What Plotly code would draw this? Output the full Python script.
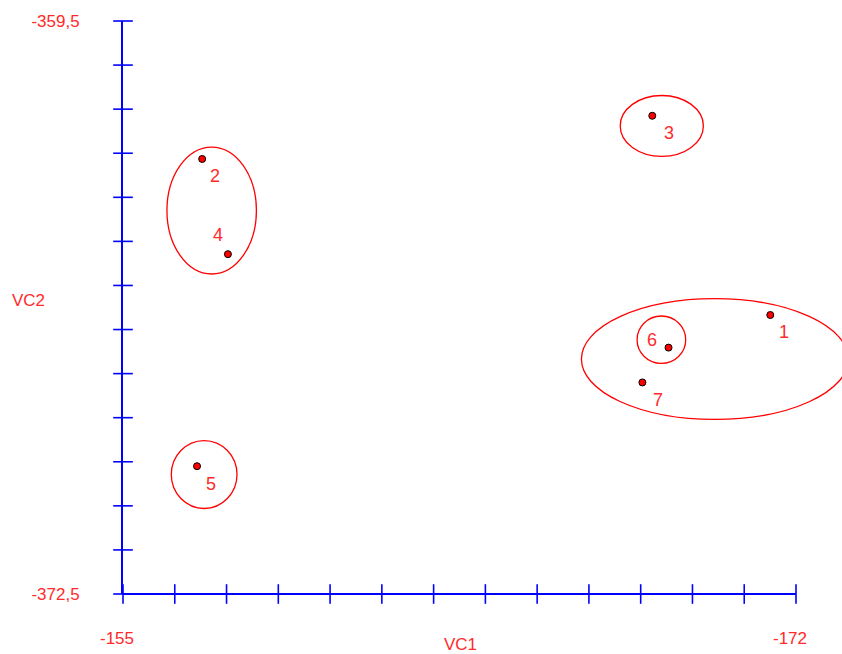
import numpy as np
import plotly.graph_objects as go

# Object scores on the first two canonical variables
point_ids = ["1", "2", "3", "4", "5", "6", "7"]
vc1 = [-171.35, -157.00, -168.37, -157.65, -156.87, -168.78, -168.12]
vc2 = [-366.17, -362.63, -361.65, -364.79, -369.60, -366.91, -367.70]

# Cluster outlines: centre and half-axes in data units
cluster_cx = [-157.24, -168.61, -157.05, -168.60, -169.95]
cluster_cy = [-363.80, -361.88, -369.79, -366.73, -367.17]
cluster_rx = [1.13, 1.05, 0.83, 0.614, 3.37]
cluster_ry = [1.44, 0.69, 0.77, 0.537, 1.37]

# Axis extents and labels
X_START, X_END = -155.0, -172.0
Y_LOW, Y_HIGH = -372.5, -359.5
x_tick_text = ["-155", "-172"]
y_tick_text = ["-359,5", "-372,5"]
N_TICKS = 14

# label offsets (pixels) relative to each point
label_dx = [14, 13, 17, -10, 14, -17, 16]
label_dy = [-17, -17, -17, 19, -18, 8, -18]

W, H = 842, 654
ML, MT, MB, MR = 123, 21, 60, 0
axis_px = 673  # drawn length of the VC1 axis
plot_w = W - ML - MR
x_full_end = X_START + (X_END - X_START) * plot_w / axis_px

RED = "#ff0000"
TXT = "#ff2a2a"
BLUE = "#0000ff"
FONT = "Liberation Sans, Arial, sans-serif"

x_ticks = np.linspace(X_START, X_END, N_TICKS)
y_ticks = np.linspace(Y_LOW, Y_HIGH, N_TICKS)

fig = go.Figure()

# crossing tick marks on both axes
fig.add_trace(go.Scatter(
    x=[X_START] * N_TICKS, y=y_ticks, mode="markers", cliponaxis=False,
    marker=dict(symbol="line-ew", size=14, line=dict(color=BLUE, width=1.6)),
    hoverinfo="skip", showlegend=False))
fig.add_trace(go.Scatter(
    x=x_ticks, y=[Y_LOW] * N_TICKS, mode="markers", cliponaxis=False,
    marker=dict(symbol="line-ns", size=14, line=dict(color=BLUE, width=1.6)),
    hoverinfo="skip", showlegend=False))

# cluster ellipses
for cx, cy, rx, ry in zip(cluster_cx, cluster_cy, cluster_rx, cluster_ry):
    fig.add_shape(type="circle", xref="x", yref="y",
                  x0=cx - rx, x1=cx + rx, y0=cy - ry, y1=cy + ry,
                  line=dict(color=RED, width=1.3), layer="below")

# VC1 axis line
fig.add_shape(type="line", xref="x", yref="paper", x0=X_START, x1=X_END,
              y0=0, y1=0, line=dict(color=BLUE, width=2))

# points
fig.add_trace(go.Scatter(
    x=vc1, y=vc2, mode="markers", cliponaxis=False,
    marker=dict(size=7, color=RED, line=dict(color="black", width=1)),
    hoverinfo="skip", showlegend=False))

annotations = []
for pid, x, y, dx, dy in zip(point_ids, vc1, vc2, label_dx, label_dy):
    annotations.append(dict(x=x, y=y, xref="x", yref="y", text=pid,
                            showarrow=False, xshift=dx, yshift=dy,
                            font=dict(family=FONT, size=18, color=TXT)))

annotations.append(dict(text="VC1", xref="paper", yref="paper",
                        x=(460 - ML) / plot_w, y=0, yshift=-50,
                        xanchor="center", yanchor="middle", showarrow=False,
                        font=dict(family=FONT, size=17, color=TXT)))
annotations.append(dict(text="VC2", xref="paper", yref="paper",
                        x=(28 - ML) / plot_w, y=(H - MB - 300) / (H - MT - MB),
                        xanchor="center", yanchor="middle", showarrow=False,
                        font=dict(family=FONT, size=17, color=TXT)))

fig.update_layout(
    width=W, height=H,
    margin=dict(l=ML, r=MR, t=MT, b=MB, pad=0),
    paper_bgcolor="white", plot_bgcolor="white",
    showlegend=False,
    annotations=annotations,
    xaxis=dict(range=[X_START, x_full_end], showgrid=False, zeroline=False,
               showline=False, ticks="",
               tickvals=[X_START, X_END], ticktext=x_tick_text,
               ticklabelstandoff=32, ticklabelshift=6,
               tickfont=dict(family=FONT, size=17, color=TXT)),
    yaxis=dict(range=[Y_LOW, Y_HIGH], showgrid=False, zeroline=False,
               showline=True, linecolor=BLUE, linewidth=2, ticks="",
               tickvals=[Y_HIGH, Y_LOW], ticktext=y_tick_text,
               ticklabelstandoff=38,
               tickfont=dict(family=FONT, size=17, color=TXT)),
)

fig.write_html("out.html")
